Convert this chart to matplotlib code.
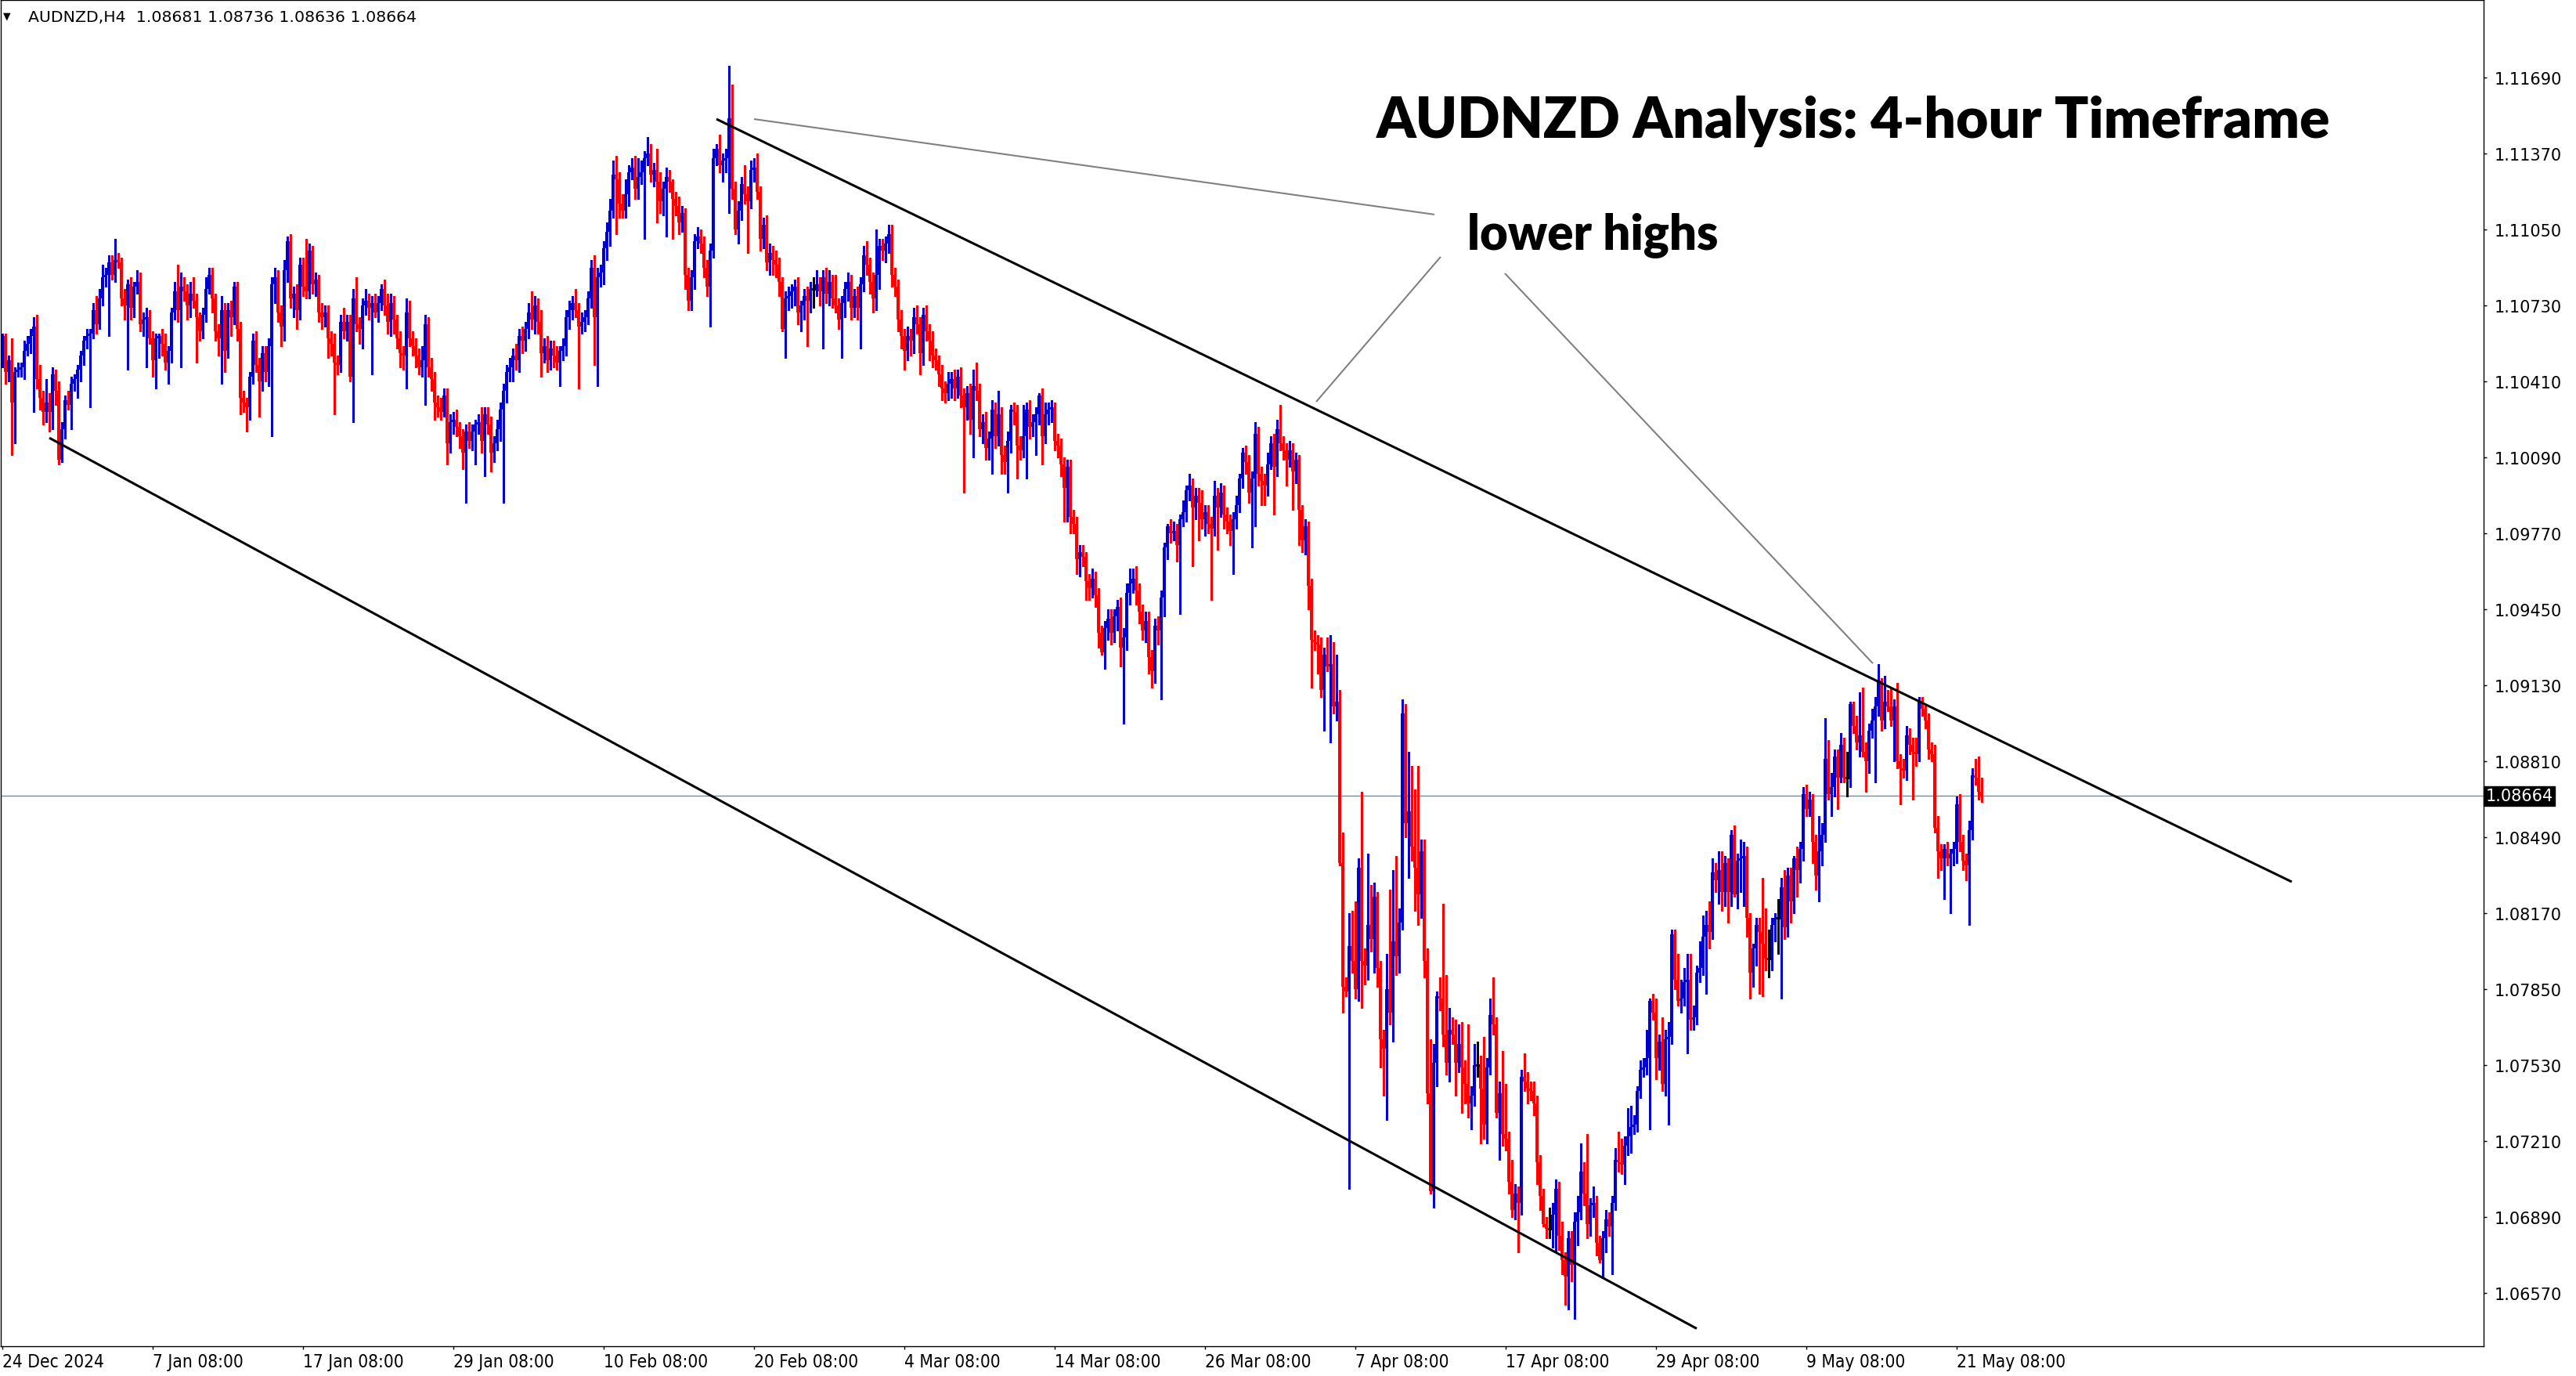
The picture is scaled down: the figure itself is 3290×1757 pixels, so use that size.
import numpy as np
import matplotlib
matplotlib.use("Agg")
import matplotlib.pyplot as plt
from matplotlib.transforms import blended_transform_factory

# ---- chart data (prices in pips, 1 pip = 0.0001) ----
header = "AUDNZD,H4  1.08681 1.08736 1.08636 1.08664"
bid_price = 1.08664
date_labels = ["24 Dec 2024", "7 Jan 08:00", "17 Jan 08:00", "29 Jan 08:00",
               "10 Feb 08:00", "20 Feb 08:00", "4 Mar 08:00", "14 Mar 08:00",
               "26 Mar 08:00", "7 Apr 08:00", "17 Apr 08:00", "29 Apr 08:00",
               "9 May 08:00", "21 May 08:00"]
bars_per_label = 48
price_ticks = [1.06570, 1.06890, 1.07210, 1.07530, 1.07850, 1.08170, 1.08490,
               1.08810, 1.09130, 1.09450, 1.09770, 1.10090, 1.10410, 1.10730,
               1.11050, 1.11370, 1.11690]

first_open = 11048
closes = [
    11060, 11045, 11050, 11032, 11045, 11046, 11047, 11054, 11057, 11060,
    11064, 11042, 11034, 11028, 11032, 11028, 11044, 11037, 11008, 11021,
    11033, 11031, 11040, 11042, 11046, 11052, 11058, 11060, 11061, 11071,
    11065, 11076, 11085, 11086, 11091, 11086, 11092, 11091, 11076, 11073,
    11082, 11072, 11081, 11083, 11065, 11067, 11068, 11059, 11050, 11059,
    11060, 11057, 11049, 11054, 11070, 11079, 11071, 11081, 11079, 11073,
    11078, 11075, 11068, 11062, 11069, 11080, 11086, 11076, 11062, 11059,
    11071, 11054, 11071, 11068, 11081, 11063, 11034, 11032, 11030, 11043,
    11058, 11048, 11041, 11053, 11045, 11056, 11082, 11085, 11070, 11064,
    11088, 11100, 11076, 11078, 11071, 11090, 11081, 11079, 11096, 11082,
    11084, 11070, 11068, 11070, 11059, 11057, 11049, 11048, 11066, 11062,
    11066, 11043, 11076, 11065, 11063, 11073, 11075, 11072, 11074, 11070,
    11074, 11080, 11073, 11066, 11074, 11067, 11059, 11053, 11052, 11070,
    11059, 11056, 11052, 11047, 11050, 11065, 11047, 11042, 11032, 11030,
    11028, 11035, 11015, 11024, 11025, 11022, 11018, 11011, 11020, 11016,
    11020, 11023, 11024, 11016, 11027, 11023, 11011, 11015, 11021, 11029,
    11037, 11045, 11047, 11052, 11050, 11060, 11058, 11063, 11070, 11067,
    11073, 11066, 11053, 11056, 11050, 11055, 11052, 11049, 11054, 11056,
    11068, 11071, 11074, 11071, 11064, 11066, 11068, 11076, 11089, 11068,
    11085, 11087, 11097, 11104, 11113, 11128, 11126, 11116, 11113, 11120,
    11129, 11131, 11122, 11127, 11129, 11135, 11137, 11128, 11130, 11125,
    11117, 11122, 11127, 11125, 11118, 11115, 11108, 11112, 11086, 11075,
    11085, 11100, 11102, 11099, 11089, 11081, 11096, 11135, 11139, 11132,
    11134, 11135, 11152, 11122, 11105, 11113, 11124, 11120, 11117, 11130,
    11131, 11121, 11101, 11107, 11091, 11095, 11092, 11090, 11083, 11063,
    11076, 11077, 11079, 11081, 11070, 11073, 11077, 11075, 11080, 11080,
    11082, 11079, 11085, 11078, 11083, 11076, 11073, 11067, 11074, 11080,
    11083, 11072, 11077, 11072, 11082, 11094, 11090, 11083, 11076, 11086,
    11098, 11096, 11099, 11103, 11086, 11081, 11067, 11060, 11054, 11060,
    11058, 11068, 11065, 11053, 11069, 11062, 11058, 11052, 11050, 11044,
    11038, 11036, 11040, 11042, 11038, 11043, 11035, 11030, 11036, 11025,
    11039, 11037, 11021, 11024, 11013, 11017, 11029, 11018, 11027, 11010,
    11007, 11016, 11029, 11028, 11014, 11012, 11018, 11029, 11022, 11024,
    11027, 11035, 11018, 11027, 11029, 11030, 11016, 11014, 11006, 10996,
    11005, 10984, 10981, 10966, 10969, 10967, 10957, 10954, 10958, 10951,
    10935, 10927, 10937, 10941, 10935, 10942, 10946, 10929, 10933, 10952,
    10956, 10958, 10953, 10944, 10936, 10940, 10925, 10919, 10938, 10936,
    10950, 10971, 10980, 10977, 10978, 10972, 10983, 10986, 10995, 10997,
    10988, 10993, 10990, 10983, 10986, 10981, 10979, 10993, 10988, 10994,
    10985, 10982, 10978, 10983, 10989, 11000, 11011, 11007, 10994, 11000,
    11019, 11002, 10999, 10997, 11006, 11015, 11005, 11021, 11015, 11012,
    11008, 11012, 11003, 11008, 10987, 10974, 10980, 10955, 10932, 10931,
    10930, 10911, 10926, 10921, 10922, 10904, 10906, 10838, 10786, 10784,
    10803, 10797, 10785, 10836, 10797, 10795, 10812, 10806, 10824, 10794,
    10764, 10760, 10785, 10775, 10805, 10799, 10813, 10901, 10855, 10860,
    10845, 10836, 10825, 10843, 10797, 10741, 10700, 10754, 10782, 10781,
    10766, 10754, 10768, 10766, 10754, 10762, 10752, 10745, 10737, 10740,
    10753, 10753, 10743, 10728, 10752, 10774, 10770, 10733, 10741, 10724,
    10722, 10704, 10692, 10699, 10695, 10748, 10746, 10743, 10742, 10737,
    10712, 10698, 10686, 10684, 10684, 10690, 10701, 10681, 10671, 10664,
    10680, 10669, 10687, 10691, 10708, 10699, 10686, 10694, 10695, 10678,
    10671, 10680, 10688, 10685, 10695, 10713, 10712, 10711, 10719, 10723,
    10727, 10728, 10742, 10751, 10752, 10756, 10780, 10775, 10756, 10763,
    10745, 10764, 10765, 10808, 10789, 10780, 10781, 10788, 10789, 10772,
    10773, 10792, 10794, 10807, 10812, 10809, 10834, 10831, 10835, 10826,
    10838, 10826, 10850, 10825, 10839, 10840, 10841, 10815, 10792, 10802,
    10812, 10809, 10804, 10798, 10798, 10812, 10815, 10815, 10828, 10811,
    10833, 10822, 10840, 10835, 10844, 10867, 10861, 10865, 10847, 10833,
    10843, 10850, 10882, 10867, 10870, 10883, 10874, 10888, 10874, 10874,
    10905, 10896, 10889, 10892, 10885, 10881, 10894, 10898, 10904, 10915,
    10898, 10906, 10904, 10898, 10904, 10881, 10878, 10877, 10892, 10888,
    10885, 10884, 10906, 10903, 10898, 10886, 10884, 10853, 10843, 10840,
    10844, 10840, 10842, 10844, 10863, 10847, 10839, 10837, 10852, 10875,
    10874, 10868, 10866,
]
upper_wick = [
    1, 1, 2, 9, 2, 3, 2, 4, 3, 3,   4, 5, 6, 3, 10, 4, 3, 2, 4, 3,
    2, 4, 3, 2, 2, 2, 2, 3, 2, 3,   6, 4, 5, 3, 3, 3, 9, 3, 2, 4,
    2, 3, 2, 5, 4, 3, 4, 3, 3, 2,   1, 3, 4, 2, 2, 4, 11, 6, 4, 3,
    5, 7, 3, 2, 3, 5, 3, 3, 2, 3,   6, 3, 3, 4, 2, 2, 3, 3, 2, 2,
    3, 4, 3, 3, 3, 3, 3, 4, 3, 3,   4, 2, 3, 3, 4, 3, 3, 20, 3, 2,
    3, 2, 4, 3, 3, 3, 4, 3, 3, 6,   3, 3, 4, 9, 3, 3, 5, 3, 3, 4,
    3, 2, 4, 5, 4, 3, 2, 3, 3, 6,   5, 3, 3, 3, 6, 4, 3, 4, 3, 3,
    4, 3, 3, 3, 3, 4, 2, 3, 3, 4,   3, 2, 3, 6, 3, 3, 3, 3, 4, 3,
    3, 3, 4, 3, 5, 3, 4, 3, 4, 9,   4, 3, 5, 3, 4, 3, 3, 4, 2, 3,
    3, 4, 3, 6, 3, 4, 3, 3, 3, 5,   4, 3, 3, 4, 5, 6, 8, 3, 4, 6,
    3, 4, 5, 8, 5, 3, 7, 4, 3, 9,   4, 3, 4, 3, 1, 3, 4, 3, 2, 3,
    3, 3, 4, 3, 3, 3, 3, 4, 2, 6,   3, 4, 22, 14, 3, 4, 3, 8, 3, 4,
    4, 6, 2, 3, 4, 4, 3, 4, 3, 2,   3, 4, 3, 3, 4, 2, 3, 4, 3, 5,
    6, 3, 3, 4, 5, 3, 10, 3, 3, 3,  4, 3, 3, 4, 3, 4, 6, 3, 4, 19,
    3, 3, 3, 4, 4, 3, 3, 4, 3, 4,   3, 4, 5, 3, 3, 4, 3, 4, 3, 2,
    4, 3, 5, 3, 4, 3, 4, 3, 3, 4,   7, 10, 3, 3, 4, 3, 4, 3, 10, 3,
    4, 4, 2, 3, 3, 4, 13, 3, 4, 3,  3, 1, 3, 5, 3, 3, 2, 3, 3, 3,
    3, 3, 3, 3, 3, 3, 2, 3, 4, 3,   3, 3, 3, 4, 4, 3, 3, 4, 4, 4,
    6, 4, 5, 3, 3, 4, 4, 3, 3, 4,   3, 2, 1, 3, 4, 3, 2, 5, 2, 5,
    3, 3, 3, 5, 3, 3, 3, 6, 3, 4,   3, 3, 3, 3, 4, 2, 2, 3, 3, 3,
    5, 3, 3, 3, 5, 3, 4, 4, 10, 3,  3, 4, 3, 3, 2, 2, 3, 2, 3, 4,
    3, 3, 3, 7, 12, 9, 20, 5, 13, 4,
    14, 15, 25, 4, 32, 5, 30, 17, 6, 2,
    3, 4, 15, 42, 30, 36, 6, 6, 4, 25,
    19, 24, 43, 5, 5, 5, 23, 8, 2, 8,
    40, 25, 9, 5, 6, 8, 9, 3, 25, 4,
    9, 10, 4, 22, 4, 7, 16, 3, 5, 18,
    21, 3, 9, 4, 3, 3, 10, 4, 3, 4,
    3, 3, 3, 3, 9, 5, 4, 3, 6, 3,
    3, 3, 4, 7, 12, 4, 25, 3, 7, 3,
    3, 3, 4, 3, 3, 5, 12, 10, 4, 12,
    9, 4, 2, 4, 4, 12, 1, 3, 6, 3,
    10, 4, 6, 2, 2, 11, 8, 6, 11, 11,
    5, 3, 11, 9, 6, 10, 6, 4, 8, 8,
    3, 2, 2, 4, 3, 8, 6, 4, 2, 2,
    3, 3, 23, 15, 12, 3, 2, 8, 4, 7,
    3, 3, 1, 5, 3, 3, 4, 3, 2, 3,
    15, 5, 17, 8, 6, 3, 3, 5, 3, 11,
    1, 1, 4, 18, 20, 4, 3, 5, 4, 7,
    1, 11, 5, 8, 3, 10, 3, 4, 4, 3,
    3, 6, 2, 2, 2, 3, 3, 4, 5, 3,
    2, 3, 2, 3, 3, 4, 3, 3, 4, 3,
    7, 9, 6,
]
lower_wick = [
    1, 5, 4, 22, 17, 2, 3, 5, 2, 4,   32, 4, 5, 5, 4, 8, 7, 6, 2, 1,
    4, 2, 10, 3, 8, 5, 4, 3, 30, 2,   4, 2, 3, 4, 26, 2, 3, 2, 3, 6,
    27, 5, 4, 3, 3, 5, 20, 2, 7, 12,  8, 5, 3, 9, 5, 3, 5, 24, 4, 6,
    5, 3, 19, 4, 3, 3, 2, 6, 4, 7,    19, 9, 3, 8, 3, 5, 7, 4, 10, 5,
    3, 3, 15, 4, 4, 6, 38, 8, 4, 8,   6, 5, 4, 8, 8, 4, 4, 3, 3, 4,
    5, 4, 5, 4, 8, 5, 22, 4, 3, 3,    4, 2, 19, 3, 6, 8, 4, 5, 28, 2,
    4, 3, 4, 5, 6, 6, 4, 6, 6, 14,    3, 4, 5, 3, 4, 19, 4, 5, 7, 4,
    3, 2, 9, 4, 5, 4, 5, 7, 21, 3,    4, 14, 4, 5, 15, 4, 8, 4, 3, 5,
    39, 5, 4, 6, 4, 5, 5, 4, 4, 4,    6, 5, 10, 4, 5, 4, 5, 3, 10, 4,
    4, 5, 4, 3, 26, 3, 4, 3, 4, 20,   29, 4, 5, 5, 6, 3, 23, 6, 3, 3,
    5, 3, 4, 4, 3, 28, 3, 3, 5, 17,   5, 6, 20, 4, 17, 4, 5, 4, 6, 4,
    4, 5, 3, 4, 4, 4, 17, 3, 3, 3,    7, 5, 23, 4, 2, 6, 4, 4, 22, 3,
    5, 3, 5, 4, 3, 5, 6, 5, 6, 1,     12, 5, 5, 6, 5, 8, 6, 19, 5, 8,
    3, 6, 24, 4, 5, 4, 3, 4, 16, 6,   5, 5, 4, 5, 17, 3, 4, 5, 6, 5,
    6, 4, 5, 4, 5, 4, 5, 5, 8, 4,     6, 5, 4, 9, 5, 4, 8, 5, 4, 5,
    5, 4, 3, 6, 5, 4, 5, 36, 5, 6,    16, 4, 3, 6, 5, 5, 15, 5, 4, 8,
    5, 13, 5, 5, 14, 4, 3, 18, 5, 4,  14, 4, 12, 3, 4, 5, 4, 5, 5, 14,
    14, 7, 4, 6, 7, 4, 8, 5, 4, 5,    6, 1, 7, 5, 5, 4, 6, 8, 32, 5,
    5, 4, 6, 5, 4, 5, 7, 7, 5, 6,     29, 8, 5, 4, 3, 7, 29, 3, 4, 4,
    25, 5, 16, 4, 7, 4, 30, 3, 18, 4, 6, 5, 6, 18, 4, 3, 4, 5, 4, 23,
    20, 5, 10, 8, 4, 2, 20, 4, 3, 4,  11, 3, 16, 5, 15, 5, 6, 10, 20, 3,
    12, 3, 17, 2, 32, 3, 6, 1, 11, 2,
    83, 5, 4, 5, 20, 8, 6, 5, 14, 8,
    12, 20, 30, 5, 12, 8, 7, 3, 6, 23,
    6, 18, 13, 10, 7, 4, 1, 7, 10, 5,
    5, 5, 8, 4, 14, 4, 19, 8, 6, 11,
    4, 5, 23, 6, 8, 3, 4, 2, 20, 5,
    5, 5, 3, 4, 21, 5, 4, 6, 4, 5,
    9, 6, 1, 4, 4, 8, 16, 6, 6, 12,
    14, 7, 23, 10, 3, 5, 6, 5, 5, 5,
    1, 7, 6, 4, 20, 3, 4, 4, 8, 4,
    7, 3, 3, 3, 3, 3, 30, 3, 9, 5,
    3, 5, 36, 3, 4, 2, 5, 3, 30, 4,
    4, 3, 4, 3, 24, 7, 3, 5, 10, 8,
    6, 13, 6, 1, 6, 13, 20, 8, 11, 6,
    7, 26, 22, 5, 8, 5, 7, 15, 34, 5,
    4, 9, 5, 11, 5, 5, 3, 3, 9, 6,
    11, 6, 3, 2, 9, 4, 13, 2, 2, 8,
    4, 3, 3, 6, 2, 13, 5, 3, 26, 4,
    4, 3, 2, 2, 17, 3, 15, 3, 4, 4,
    20, 5, 3, 3, 3, 4, 3, 2, 11, 5,
    17, 3, 23, 5, 6, 4, 4, 6, 25, 4,
    3, 3, 2,
]

# drawn lines: (bar index, price)
upper_trend = [(228.0, 1.11515), (731.0, 1.08302)]
lower_trend = [(15.0, 1.10172), (541.0, 1.06420)]
pointer_lines = [
    [(240.0, 1.11515), (457.25, 1.11113)],
    [(459.25, 1.10935), (419.5, 1.10324)],
    [(479.75, 1.10865), (597.25, 1.09222)],
]

# ---- build OHLC ----
c = np.array(closes, dtype=float) / 1e4
o = np.r_[first_open, closes[:-1]].astype(float) / 1e4
hi = np.maximum(o, c) + np.array(upper_wick) / 1e4
lo = np.minimum(o, c) - np.array(lower_wick) / 1e4
n = len(c)
x = np.arange(n)

BLUE = "#0000CD"
RED = "#FF0000"
up = c > o
down = c < o
flat = ~(up | down)
colors = np.where(up, BLUE, np.where(down, RED, "black"))

W, H = 3290, 1758
fig = plt.figure(figsize=(W / 100, H / 100), dpi=100)
ax = fig.add_axes([1 / W, (H - 1720) / H, 3171 / W, 1719 / H])
renderer = fig.canvas.get_renderer()


def fit_width(txt, target_px):
    # scale a text so that its rendered width matches target_px
    w = txt.get_window_extent(renderer).width
    txt.set_fontsize(txt.get_fontsize() * target_px / w)


ax.vlines(x, lo, hi, colors=colors, linewidth=0.8, antialiased=False)
ax.bar(x[~flat], np.abs(c - o)[~flat], bottom=np.minimum(o, c)[~flat], width=0.8,
       color=colors[~flat], linewidth=0, antialiased=False)
ax.hlines(c[flat], x[flat] - 0.4, x[flat] + 0.4, colors="black",
          linewidth=0.8, antialiased=False)

# bid line
ax.axhline(bid_price, color="#778899", linewidth=1.0, zorder=0)

for (x0, y0), (x1, y1) in [upper_trend, lower_trend]:
    ax.plot([x0, x1], [y0, y1], color="black", linewidth=2.2, solid_capstyle="butt")
for (x0, y0), (x1, y1) in pointer_lines:
    ax.plot([x0, x1], [y0, y1], color="#808080", linewidth=1.5, solid_capstyle="butt")

ax.set_xlim(-0.5, 792.25)
ax.set_ylim(1.063457, 1.120166)

# x labels: condensed face, sized to the reference label width
probe = fig.text(0, 0, date_labels[0], fontsize=14.5, fontstretch="condensed")
fit_width(probe, 130)
xfs = probe.get_fontsize()
probe.remove()

ax.set_xticks(np.arange(len(date_labels)) * bars_per_label)
ax.set_xticklabels(date_labels, ha="left", fontsize=xfs, fontstretch="condensed")
ax.yaxis.tick_right()
ax.set_yticks(price_ticks)
ax.set_yticklabels([f"{p:.5f}" for p in price_ticks], fontsize=15)
ax.tick_params(axis="x", direction="out", length=3, width=1, pad=3)
ax.tick_params(axis="y", direction="out", length=3, width=1, pad=7)
for sp in ax.spines.values():
    sp.set_color("black")
    sp.set_linewidth(1.0)

# bid label box
tr = blended_transform_factory(ax.transAxes, ax.transData)
ax.text(1.0008, bid_price, f"{bid_price:.5f}", transform=tr, fontsize=15, color="white",
        va="center", ha="left",
        bbox=dict(boxstyle="square,pad=0.12", facecolor="black", edgecolor="black"))

# annotations
title = ax.text(438.75, 1.11439, "AUDNZD Analysis: 4-hour Timeframe", fontsize=50,
                fontweight="heavy", family="Lato", ha="left", va="baseline")
fit_width(title, 1217)
note = ax.text(467.75, 1.10968, "lower highs", fontsize=42, fontweight="heavy",
               family="Lato", ha="left", va="baseline")
fit_width(note, 321)

# header
fig.text(4 / W, 1 - 24 / H, "\u25bc", fontsize=9, ha="left", va="baseline")
head = fig.text(36 / W, 1 - 28 / H, header, fontsize=14.4, ha="left", va="baseline")
fit_width(head, 497)

fig.savefig("out.png", dpi=100, facecolor="white")
